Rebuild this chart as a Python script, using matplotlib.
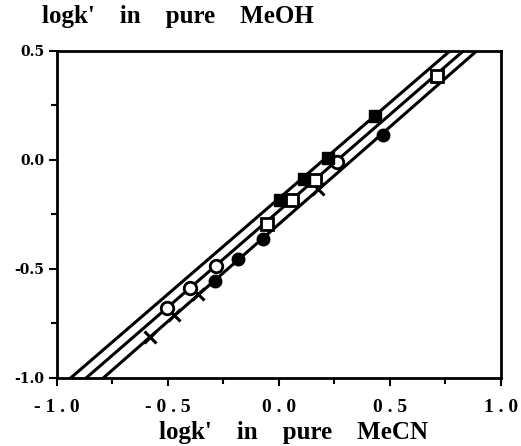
import matplotlib
matplotlib.use("Agg")
import matplotlib.pyplot as plt
import numpy as np
from matplotlib.ticker import MultipleLocator

# Data
cross_x = [-0.581, -0.473, -0.364, 0.177]
cross_y = [-0.810, -0.712, -0.615, -0.131]

fcirc_x = [-0.288, -0.183, -0.071, 0.470]
fcirc_y = [-0.557, -0.454, -0.361, 0.115]

ocirc_x = [-0.506, -0.401, -0.282, 0.260]
ocirc_y = [-0.681, -0.589, -0.488, -0.007]

osq_x = [-0.055, 0.057, 0.162, 0.710]
osq_y = [-0.292, -0.185, -0.092, 0.385]

fsq_x = [0.005, 0.113, 0.222, 0.432]
fsq_y = [-0.185, -0.088, 0.008, 0.200]

# regression lines (slope, intercept): top, middle, bottom
line_slopes = [0.878, 0.883, 0.892]
line_intercepts = [-0.176, -0.233, -0.294]

x_ticks = [-1.0, -0.5, 0.0, 0.5, 1.0]
x_ticklabels = ["- 1 . 0", "- 0 . 5", "0 . 0", "0 . 5", "1 . 0"]
y_ticks = [-1.0, -0.5, 0.0, 0.5]
y_ticklabels = ["-1.0", "-0.5", "0.0", "0.5"]

plt.rcParams['font.family'] = ['Liberation Serif', 'DejaVu Serif']
plt.rcParams['font.weight'] = 'bold'

fig = plt.figure(figsize=(5.21, 4.46), dpi=100)
ax = fig.add_axes([0.1094, 0.1525, 0.8522, 0.7332])

xs = np.array([-1.2, 1.2])
for m, b in zip(line_slopes, line_intercepts):
    ax.plot(xs, m * xs + b, color='black', lw=2.2, zorder=2)

ms = 9
ax.plot(cross_x, cross_y, 'x', color='black', ms=8, mew=2.2, zorder=3)
ax.plot(fcirc_x, fcirc_y, 'o', color='black', ms=ms, zorder=3)
ax.plot(ocirc_x, ocirc_y, 'o', mfc='white', mec='black', mew=2, ms=ms, zorder=3)
ax.plot(osq_x, osq_y, 's', mfc='white', mec='black', mew=2, ms=ms - 0.5, zorder=3)
ax.plot(fsq_x, fsq_y, 's', color='black', ms=ms - 0.5, zorder=3)

ax.set_xlim(-1.0, 1.0)
ax.set_ylim(-1.0, 0.5)
ax.set_xticks(x_ticks)
ax.set_xticklabels(x_ticklabels)
ax.set_yticks(y_ticks)
ax.set_yticklabels(y_ticklabels)
ax.xaxis.set_minor_locator(MultipleLocator(0.25))
ax.yaxis.set_minor_locator(MultipleLocator(0.25))
ax.tick_params(which='major', direction='out', length=6, width=1.5)
ax.tick_params(which='minor', direction='out', length=4, width=1.5)
ax.tick_params(axis='x', pad=9)
ax.tick_params(axis='y', pad=3)
for lab in ax.get_xticklabels():
    lab.set_fontweight('bold')
    lab.set_fontsize(14)
for lab in ax.get_yticklabels():
    lab.set_fontweight('bold')
    lab.set_family(['DejaVu Serif'])
    lab.set_fontsize(10)
for s in ax.spines.values():
    s.set_linewidth(2)

fig.text(0.563, 0.031, "logk'    in    pure    MeCN", fontsize=18, fontweight='bold',
         ha='center', va='center')
fig.text(0.0806, 0.963, "logk'    in    pure    MeOH", fontsize=18, fontweight='bold',
         ha='left', va='center')

fig.savefig("out.png", dpi=100)
